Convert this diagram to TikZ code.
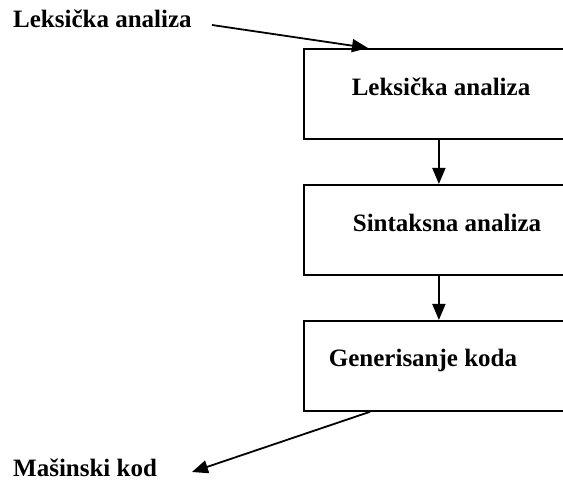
\documentclass[tikz,border=0pt]{standalone}
\usepackage{fontspec}
\setmainfont{Liberation Serif}
\usetikzlibrary{arrows.meta}
\begin{document}
\begin{tikzpicture}[x=1pt,y=-1pt,
  stagebox/.style={draw,line width=1.8pt,minimum width=270pt,minimum height=90pt,inner sep=0pt,anchor=north west},
  lbl/.style={font=\fontsize{25}{30}\bfseries\selectfont,inner sep=0pt,anchor=base},
  arr/.style={line width=1.8pt,-{Triangle[length=16pt,width=13pt]}}]
\useasboundingbox (0,0) rectangle (563,481);
\clip (0,0) rectangle (563,481);
\node[stagebox] (b1) at (303,48) {};
\node[stagebox] (b2) at (303,184) {};
\node[stagebox] (b3) at (303,320) {};
\node[lbl] (t1) at (441,96) {Leksička analiza};
\node[lbl] (t2) at (447,232) {Sintaksna analiza};
\node[lbl] (t3) at (423,367) {Generisanje koda};
\node[lbl,anchor=base west] (in) at (13,28) {Leksička analiza};
\node[lbl,anchor=base west] (out) at (13,476) {Mašinski kod};
\coordinate (inS) at (212,25);
\coordinate (outE) at (192,472);
\draw[arr] (inS) -- ([xshift=65pt]b1.north west);
\draw[arr] (b1.south) -- (b2.north);
\draw[arr] (b2.south) -- (b3.north);
\draw[arr] ([xshift=67pt]b3.south west) -- (outE);
\end{tikzpicture}
\end{document}
